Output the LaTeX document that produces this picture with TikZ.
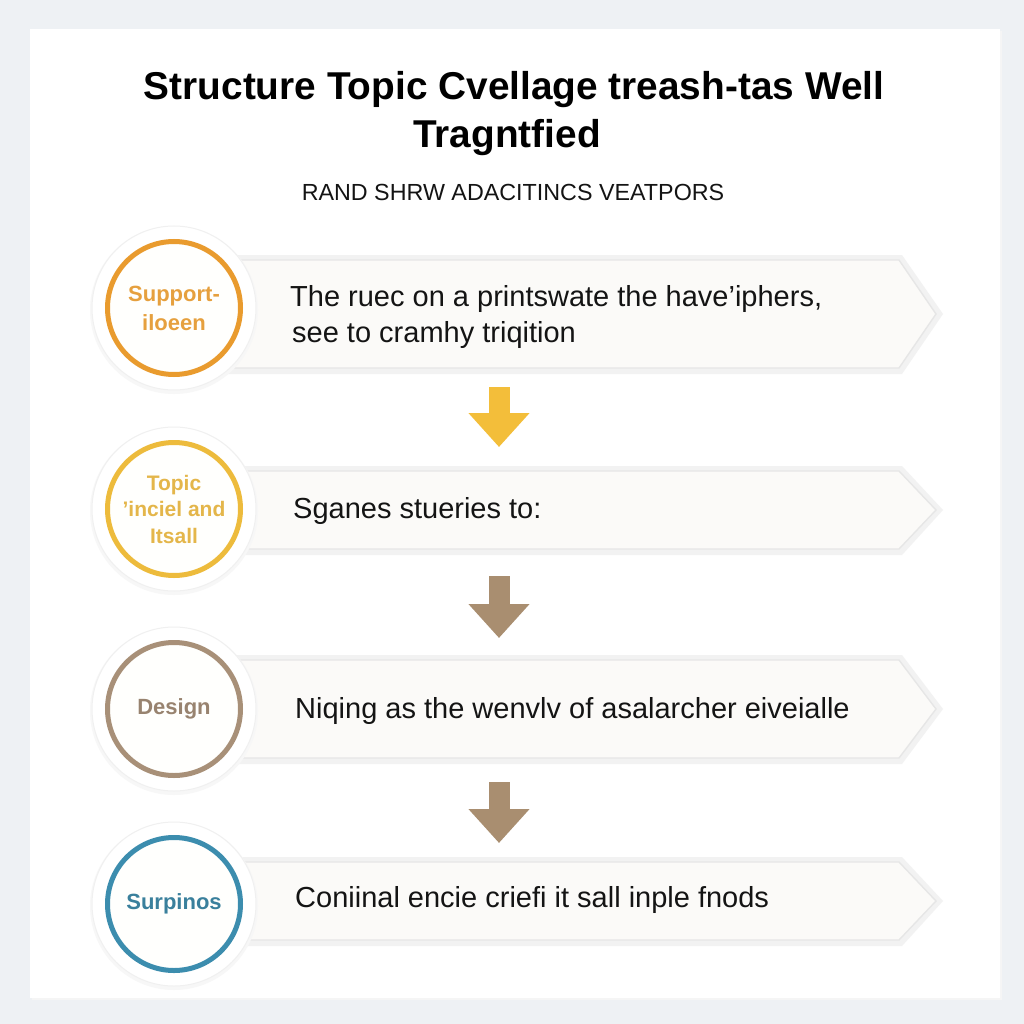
\documentclass[tikz,border=0pt]{standalone}
\usepackage{fontspec}
\setmainfont{Liberation Sans}
\usetikzlibrary{arrows.meta}
\definecolor{bgcol}{HTML}{EEF1F4}
\definecolor{bandfill}{HTML}{FBFAF8}
\definecolor{bandline}{HTML}{E6E6E6}
\definecolor{glowcol}{HTML}{F2F2F2}
\definecolor{haloline}{HTML}{F0F0F0}
\definecolor{orangec}{HTML}{E99B2E}
\definecolor{oranget}{HTML}{E6A03E}
\definecolor{yellowc}{HTML}{EDBB3C}
\definecolor{yellowt}{HTML}{E4B64A}
\definecolor{brownc}{HTML}{A89078}
\definecolor{brownt}{HTML}{98836F}
\definecolor{bluec}{HTML}{3C8DAE}
\definecolor{bluet}{HTML}{3A809C}
\definecolor{yarrow}{HTML}{F3BE3A}
\definecolor{barrow}{HTML}{A98E70}
\definecolor{textcol}{HTML}{141414}
\newcommand\myband[3]{% name, top, bottom
  \fill[glowcol] (226,#2-5) -- (902,#2-5) -- (943,{(#2+#3)/2}) -- (902,#3+6) -- (226,#3+6) -- cycle;
  \filldraw[fill=bandfill, draw=bandline, line width=1.4pt] (230,#2) -- (899,#2) -- (936,{(#2+#3)/2}) -- (899,#3) -- (230,#3) -- cycle;
  \coordinate (#1) at (230,{(#2+#3)/2});
}
\newcommand\myhalo[2]{% name, y
  \fill[black!3] (174,#2+2) circle[radius=84];
  \filldraw[fill=white, draw=haloline, line width=1pt] (174,#2) circle[radius=82];
  \coordinate (#1) at (174,#2);
}
\tikzset{
  ring/.style={circle, line width=5pt, minimum size=133pt, inner sep=0pt, fill=white!97!yellow!30, align=center,
    font=\fontsize{22}{29}\selectfont\bfseries},
  rowtext/.style={anchor=base west, inner sep=0pt, text=textcol, font=\fontsize{29}{34}\selectfont},
  blockarrow/.style={line width=21pt, -{Triangle[width=59pt,length=34pt]}}
}
\begin{document}
\begin{tikzpicture}[x=1pt,y=-1pt]
\useasboundingbox (0,0) rectangle (1024,1024);
\fill[bgcol] (0,0) rectangle (1024,1024);
\fill[black!4] (32,31) rectangle (1002,1000);
\fill[white] (30,29) rectangle (1000,998);

% title
\node[anchor=base, inner sep=0pt, font=\fontsize{38.8}{46}\selectfont\bfseries] (title1) at (514,100) {Structure Topic Cvellage treash-tas Well};
\node[anchor=base, inner sep=0pt, font=\fontsize{38.8}{46}\selectfont\bfseries] (title2) at (507,148) {Tragntfied};
\node[anchor=base, inner sep=0pt, text=textcol, font=\fontsize{23.3}{28}\selectfont] (subtitle) at (513,201) {RAND SHRW ADACITINCS VEATPORS};

% bands
\myband{b1}{260}{368}
\myband{b2}{471}{549}
\myband{b3}{660}{758}
\myband{b4}{862}{940}

% halos
\myhalo{h1}{308}
\myhalo{h2}{509}
\myhalo{h3}{709}
\myhalo{h4}{904}

% circles
\node[ring, draw=orangec, text=oranget] (c1) at (h1) {Support-\\iloeen};
\node[ring, draw=yellowc, text=yellowt, font=\fontsize{21}{26.5}\selectfont\bfseries] (c2) at (h2) {Topic\\'inciel and\\Itsall};
\node[ring, draw=brownc, text=brownt] (c3) at (h3) {Design};
\node[ring, draw=bluec, text=bluet] (c4) at (h4) {Surpinos};

% row texts
\node[rowtext] (t1a) at (290,306) {The ruec on a printswate the have'iphers,};
\node[rowtext] (t1b) at (292,342) {see to cramhy triqition};
\node[rowtext] (t2) at (293,518) {Sganes stueries to:};
\node[rowtext] (t3) at (295,718) {Niqing as the wenvlv of asalarcher eiveialle};
\node[rowtext] (t4) at (295,907) {Coniinal encie criefi it sall inple fnods};

% arrows
\coordinate (a1s) at (499,387); \coordinate (a1e) at (499,447);
\coordinate (a2s) at (499,576); \coordinate (a2e) at (499,638);
\coordinate (a3s) at (499,782); \coordinate (a3e) at (499,843);
\draw[blockarrow, yarrow] (a1s) -- (a1e);
\draw[blockarrow, barrow] (a2s) -- (a2e);
\draw[blockarrow, barrow] (a3s) -- (a3e);
\end{tikzpicture}
\end{document}
